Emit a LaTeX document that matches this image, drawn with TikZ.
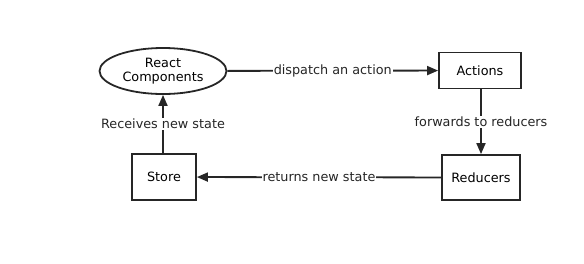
\documentclass[tikz,border=0pt]{standalone}
\usepackage{fontspec}
\setmainfont{DejaVu Sans}
\usetikzlibrary{arrows.meta,positioning,shapes.geometric}
\tikzset{
  every picture/.append style={line cap=butt,line join=miter},
  flux box/.style={draw=black!85,line width=1.8pt,rectangle,inner sep=0pt},
  flux view/.style={draw=black!85,line width=1.8pt,ellipse,inner sep=0pt,
    minimum width=127pt,minimum height=46pt,align=center},
  flux arrow/.style={draw=black!85,line width=1.8pt,
    -{Triangle[length=11pt,width=9pt]}},
  flux label/.style={fill=white,inner sep=1pt,text=black!85}
}

\begin{document}
\begin{tikzpicture}[x=1pt,y=-1pt,font=\fontsize{12.8}{15}\selectfont]
  \useasboundingbox (0,0) rectangle (584,263);

  \node[flux view] (react) at (163,71) {React\\[-1pt]Components};
  \node[flux box,minimum width=82pt,minimum height=36pt] (actions) at (480,70.5) {Actions};
  \node[flux box,minimum width=78pt,minimum height=45pt] (reducers) at (481,177.5) {Reducers};
  \node[flux box,minimum width=64pt,minimum height=46pt] (store) at (164,177) {Store};

  \draw[flux arrow] (react) -- node[flux label] {dispatch an action} (actions);
  \draw[flux arrow] (actions.south -| reducers) -- node[flux label] {forwards to reducers} (reducers);
  \draw[flux arrow] (reducers) -- node[flux label] {returns new state} (store);
  \draw[flux arrow] (store.north -| react) -- node[flux label] {Receives new state} (react);
\end{tikzpicture}
\end{document}
